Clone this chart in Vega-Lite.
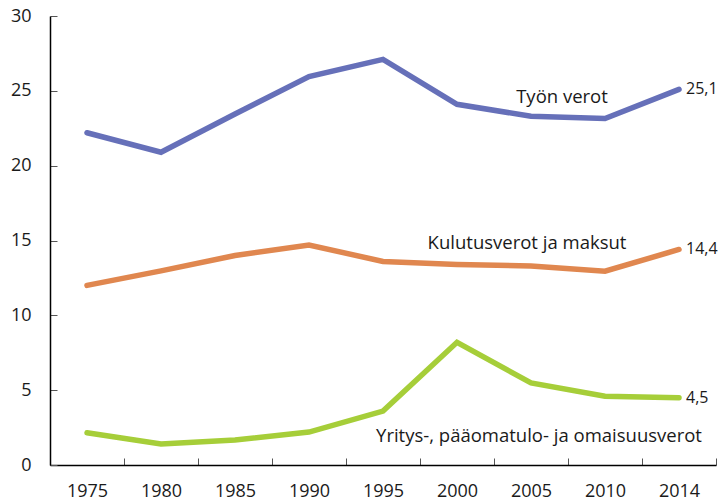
{
  "$schema": "https://vega.github.io/schema/vega-lite/v6.json",
  "width": 666,
  "height": 449,
  "autosize": "none",
  "padding": {"left": 50, "top": 16, "right": 4, "bottom": 37},
  "background": "white",
  "config": {
    "view": {"stroke": null},
    "font": "Open Sans",
    "axis": {"grid": false, "domainColor": "#000000", "domainWidth": 1.5, "tickColor": "#555555", "tickWidth": 1, "labelColor": "#1a1a1a", "labelFontSize": 18, "labelFont": "Open Sans", "title": null}
  },
  "datasets": {
    "series": [
      {"year": "1975", "series": "Työn verot", "value": 22.2},
      {"year": "1980", "series": "Työn verot", "value": 20.9},
      {"year": "1985", "series": "Työn verot", "value": 23.45},
      {"year": "1990", "series": "Työn verot", "value": 25.95},
      {"year": "1995", "series": "Työn verot", "value": 27.1},
      {"year": "2000", "series": "Työn verot", "value": 24.1},
      {"year": "2005", "series": "Työn verot", "value": 23.3},
      {"year": "2010", "series": "Työn verot", "value": 23.15},
      {"year": "2014", "series": "Työn verot", "value": 25.1},
      {"year": "1975", "series": "Kulutusverot ja maksut", "value": 12.0},
      {"year": "1980", "series": "Kulutusverot ja maksut", "value": 12.97},
      {"year": "1985", "series": "Kulutusverot ja maksut", "value": 14.0},
      {"year": "1990", "series": "Kulutusverot ja maksut", "value": 14.7},
      {"year": "1995", "series": "Kulutusverot ja maksut", "value": 13.6},
      {"year": "2000", "series": "Kulutusverot ja maksut", "value": 13.4},
      {"year": "2005", "series": "Kulutusverot ja maksut", "value": 13.3},
      {"year": "2010", "series": "Kulutusverot ja maksut", "value": 12.95},
      {"year": "2014", "series": "Kulutusverot ja maksut", "value": 14.4},
      {"year": "1975", "series": "Yritys-, pääomatulo- ja omaisuusverot", "value": 2.15},
      {"year": "1980", "series": "Yritys-, pääomatulo- ja omaisuusverot", "value": 1.4},
      {"year": "1985", "series": "Yritys-, pääomatulo- ja omaisuusverot", "value": 1.67},
      {"year": "1990", "series": "Yritys-, pääomatulo- ja omaisuusverot", "value": 2.2},
      {"year": "1995", "series": "Yritys-, pääomatulo- ja omaisuusverot", "value": 3.6},
      {"year": "2000", "series": "Yritys-, pääomatulo- ja omaisuusverot", "value": 8.2},
      {"year": "2005", "series": "Yritys-, pääomatulo- ja omaisuusverot", "value": 5.48},
      {"year": "2010", "series": "Yritys-, pääomatulo- ja omaisuusverot", "value": 4.6},
      {"year": "2014", "series": "Yritys-, pääomatulo- ja omaisuusverot", "value": 4.5}
    ],
    "ends": [
      {"year": "2014", "value": 25.1, "label": "25,1"},
      {"year": "2014", "value": 14.4, "label": "14,4"},
      {"year": "2014", "value": 4.5, "label": "4,5"}
    ]
  },
  "encoding": {
    "x": {
      "field": "year", "type": "ordinal",
      "scale": {"type": "band", "paddingInner": 0, "paddingOuter": 0, "domain": ["1975","1980","1985","1990","1995","2000","2005","2010","2014"]},
      "axis": {"tickBand": "extent", "tickSize": -7, "labelPadding": 24, "labelAngle": 0}
    },
    "y": {
      "field": "value", "type": "quantitative",
      "scale": {"domain": [0, 30], "nice": false, "zero": true},
      "axis": {"values": [0, 5, 10, 15, 20, 25, 30], "tickSize": -7, "labelPadding": 26}
    }
  },
  "layer": [
    {
      "data": {"name": "series"},
      "mark": {"type": "line", "strokeWidth": 5.5, "strokeCap": "round", "strokeJoin": "miter"},
      "encoding": {
        "color": {
          "field": "series", "type": "nominal", "legend": null,
          "scale": {"domain": ["Työn verot", "Kulutusverot ja maksut", "Yritys-, pääomatulo- ja omaisuusverot"], "range": ["#6670b9", "#e0874f", "#a6ce39"]}
        }
      }
    },
    {
      "data": {"values": [{"year": "2005", "value": 24.58, "label": "Työn verot"}]},
      "mark": {"type": "text", "fontSize": 18.5, "color": "#1a1a1a", "align": "center", "baseline": "middle", "dx": 31},
      "encoding": {"text": {"field": "label"}}
    },
    {
      "data": {"values": [{"year": "2005", "value": 14.83, "label": "Kulutusverot ja maksut"}]},
      "mark": {"type": "text", "fontSize": 18.5, "color": "#1a1a1a", "align": "center", "baseline": "middle", "dx": -4},
      "encoding": {"text": {"field": "label"}}
    },
    {
      "data": {"values": [{"year": "2005", "value": 1.94, "label": "Yritys-, pääomatulo- ja omaisuusverot"}]},
      "mark": {"type": "text", "fontSize": 18.5, "color": "#1a1a1a", "align": "center", "baseline": "middle", "dx": 8},
      "encoding": {"text": {"field": "label"}}
    },
    {
      "data": {"name": "ends"},
      "mark": {"type": "text", "fontSize": 16, "color": "#1a1a1a", "align": "left", "baseline": "middle", "dx": 7},
      "encoding": {"text": {"field": "label"}}
    }
  ]
}
